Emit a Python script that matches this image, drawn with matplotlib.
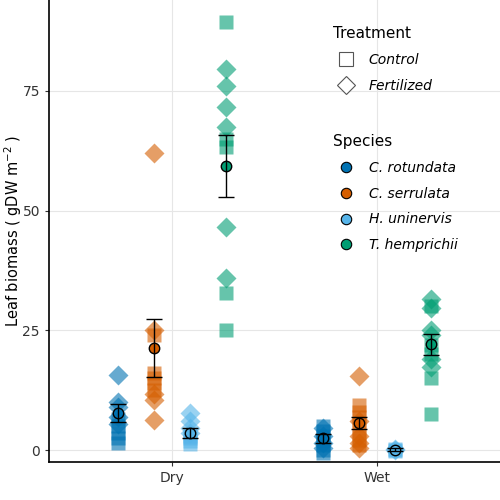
import matplotlib
matplotlib.use("Agg")
import matplotlib.pyplot as plt
from matplotlib.lines import Line2D
import numpy as np

conditions = ["Dry", "Wet"]
species = ["C. rotundata", "C. serrulata", "H. uninervis", "T. hemprichii"]
colors = ["#0072B2", "#D55E00", "#56B4E9", "#009E73"]

# individual observations: [condition][species]
control = [
    [[1.5, 2.5, 3.5, 5.0, 6.5],
     [24.0, 16.0, 14.0, 12.5, 15.0],
     [1.2, 1.8, 2.5, 3.0],
     [89.5, 65.0, 63.3, 32.8, 25.0]],
    [[5.0, 4.0, 3.0, 2.0, 1.0, 0.0, -0.6],
     [9.5, 8.0, 7.0, 5.0, 4.0, 2.0, 1.0],
     [0.0, 0.3, -0.2],
     [30.0, 22.0, 15.0, 7.5, 20.0]],
]
fertilized = [
    [[15.7, 10.0, 9.0, 5.5, 7.0],
     [62.0, 25.0, 11.8, 10.5, 6.2],
     [7.7, 6.0, 4.5, 3.5],
     [79.6, 76.0, 71.6, 67.5, 46.5, 36.0]],
    [[4.5, 3.0, 1.5, 0.5],
     [15.5, 6.0, 3.0, 1.5, 0.5],
     [0.2, 0.0],
     [31.5, 29.7, 25.0, 24.0, 17.3, 19.0]],
]
means = [[7.7, 21.3, 3.5, 59.3], [2.5, 5.6, 0.1, 22.1]]
ses = [[1.9, 6.15, 1.05, 6.4], [0.95, 1.25, 0.3, 2.2]]

yticks = [0, 25, 50, 75]

fig = plt.figure(figsize=(5, 5), dpi=100)
ax = fig.add_axes([0.098, 0.076, 0.902, 0.924])
offsets = np.array([-0.2625, -0.0875, 0.0875, 0.2625])

for ci in range(len(conditions)):
    for si in range(len(species)):
        x = ci + 1 + offsets[si]
        c = control[ci][si]
        f = fertilized[ci][si]
        ax.plot([x] * len(c), c, ls="none", marker="s", ms=9.4, color=colors[si],
                alpha=0.6, mec="none", zorder=2)
        ax.plot([x] * len(f), f, ls="none", marker="D", ms=10, color=colors[si],
                alpha=0.6, mec="none", zorder=2)
        ax.plot([x], [means[ci][si]], ls="none", marker="o", ms=7.5, color=colors[si],
                mec="black", mew=1.0, zorder=3)
        ax.errorbar([x], [means[ci][si]], yerr=[ses[ci][si]], fmt="none", ecolor="black",
                    elinewidth=1.0, capsize=5.5, capthick=1.0, zorder=4)

ax.set_xlim(0.4, 2.6)
ax.set_ylim(-2.5, 94)
ax.set_xticks([1, 2])
ax.set_xticklabels(conditions)
ax.set_yticks(yticks)
ax.grid(True, color="#e6e6e6", lw=0.8, zorder=0)
ax.set_axisbelow(True)
for s in ["top", "right"]:
    ax.spines[s].set_visible(False)
for s in ["left", "bottom"]:
    ax.spines[s].set_linewidth(1.2)
ax.tick_params(axis="both", labelsize=10, length=3, color="#333333", labelcolor="#333333")
ax.set_ylabel("Leaf biomass ( gDW m$^{-2}$ )", fontsize=10.5)
ax.yaxis.set_label_coords(-0.056, 0.5)

treat_handles = [
    Line2D([], [], ls="none", marker="s", ms=10, mfc="white", mec="#555555", mew=0.8),
    Line2D([], [], ls="none", marker="D", ms=9, mfc="white", mec="#555555", mew=0.8),
]
leg1 = ax.legend(treat_handles, ["Control", "Fertilized"], title="Treatment",
                 loc="upper left", bbox_to_anchor=(0.601, 0.97), frameon=False,
                 prop={"style": "italic", "size": 10}, title_fontsize=11,
                 handletextpad=0.6, labelspacing=0.85, alignment="left")
ax.add_artist(leg1)
sp_handles = [Line2D([], [], ls="none", marker="o", ms=7.5, mfc=c, mec="black", mew=0.8)
              for c in colors]
ax.legend(sp_handles, species, title="Species", loc="upper left",
          bbox_to_anchor=(0.601, 0.737), frameon=False,
          prop={"style": "italic", "size": 10}, title_fontsize=11,
          handletextpad=0.6, labelspacing=0.85, alignment="left")

fig.savefig("out.png", dpi=100)
